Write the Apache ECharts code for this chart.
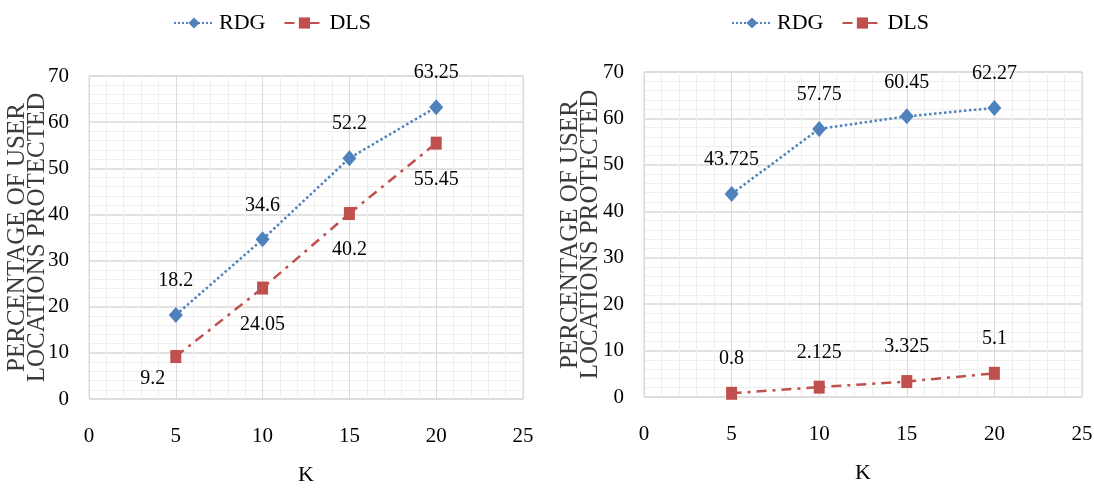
<!DOCTYPE html>
<html>
<head>
<meta charset="utf-8">
<script src="https://cdn.jsdelivr.net/npm/echarts@6/dist/echarts.min.js"></script>
<style>html,body{margin:0;padding:0;background:#fff}#c{width:1094px;height:494px}</style>
</head>
<body>
<div id="c"></div>
<script>
var kValues = [5, 10, 15, 20];
var leftRDG = [18.2, 34.6, 52.2, 63.25];
var leftDLS = [9.2, 24.05, 40.2, 55.45];
var rightRDG = [43.725, 57.75, 60.45, 62.27];
var rightDLS = [0.8, 2.125, 3.325, 5.1];
var seriesNames = ['RDG', 'DLS'];
var yTitle = 'PERCENTAGE OF USER\nLOCATIONS PROTECTED';
var xTitle = 'K';

var FONT = '"Liberation Serif", "Times New Roman", serif';
var BLUE = '#4F81BD', RED = '#C0504D';

function pairs(xs, ys) { return xs.map(function (x, i) { return [x, ys[i]]; }); }

function xAxis(gi) {
  return {
    gridIndex: gi, type: 'value', min: 0, max: 25, interval: 5,
    name: xTitle, nameLocation: 'middle', nameGap: 65, nameMoveOverlap: false,
    nameTextStyle: { fontFamily: FONT, fontSize: 22, color: '#000' },
    axisLine: { show: false }, axisTick: { show: false },
    axisLabel: { fontFamily: FONT, fontSize: 21, color: '#000', margin: 27 },
    splitLine: { lineStyle: { color: '#d9d9d9', width: 1 } },
    minorTick: { show: false, splitNumber: 5 },
    minorSplitLine: { show: true, lineStyle: { color: '#efefef', width: 1 } }
  };
}
function yAxis(gi, gap) {
  return {
    gridIndex: gi, type: 'value', min: 0, max: 70, interval: 10,
    name: yTitle, nameLocation: 'middle', nameGap: gap, nameRotate: 90, nameMoveOverlap: false,
    nameTextStyle: { fontFamily: FONT, fontSize: 25, color: '#3a3a3a', lineHeight: 20, align: 'center', verticalAlign: 'middle' },
    axisLine: { show: false }, axisTick: { show: false },
    axisLabel: { fontFamily: FONT, fontSize: 21, color: '#000', margin: 20 },
    splitLine: { lineStyle: { color: '#d9d9d9', width: 1.5 } },
    minorTick: { show: false, splitNumber: 5 },
    minorSplitLine: { show: true, lineStyle: { color: '#efefef', width: 1 } }
  };
}
var labelBase = { show: true, fontFamily: FONT, fontSize: 20, color: '#000' };

function rdg(gi, data) {
  return {
    name: seriesNames[0], type: 'line', xAxisIndex: gi, yAxisIndex: gi,
    data: pairs(kValues, data), symbol: 'diamond', symbolSize: [14, 16],
    itemStyle: { color: BLUE },
    lineStyle: { color: BLUE, width: 2.5, type: 'dotted' },
    label: Object.assign({}, labelBase, { position: 'top', distance: 16 }),
    z: 3
  };
}
function dls(gi, data, below) {
  var d = pairs(kValues, data);
  if (below) {
    d = d.map(function (p, i) {
      if (i === 0) return { value: p, label: { position: 'bottom', offset: [-23, -14] } };
      return p;
    });
  }
  return {
    name: seriesNames[1], type: 'line', xAxisIndex: gi, yAxisIndex: gi,
    data: d, symbol: 'rect', symbolSize: [11, 13],
    itemStyle: { color: RED },
    lineStyle: { color: RED, width: 2.5, type: [10, 6, 3, 6] },
    label: Object.assign({}, labelBase, below ? { position: 'bottom', distance: 20 } : { position: 'top', distance: 18 }),
    z: 2
  };
}

var legendCommon = {
  orient: 'horizontal', itemWidth: 40, itemHeight: 14, itemGap: 18,
  textStyle: { fontFamily: FONT, fontSize: 22, color: '#000' },
  data: seriesNames
};

var option = {
  backgroundColor: '#fff',
  animation: false,
  legend: [
    Object.assign({ left: 168, top: 7 }, legendCommon),
    Object.assign({ left: 726, top: 7 }, legendCommon)
  ],
  grid: [
    { left: 89, right: 571, top: 76, bottom: 95, show: true, borderColor: '#d9d9d9', borderWidth: 1, outerBoundsMode: 'none', containLabel: false },
    { left: 644, right: 12, top: 72, bottom: 97, show: true, borderColor: '#d9d9d9', borderWidth: 1, outerBoundsMode: 'none', containLabel: false }
  ],
  xAxis: [xAxis(0), xAxis(1)],
  yAxis: [yAxis(0, 62), yAxis(1, 64)],
  series: [
    rdg(0, leftRDG), dls(0, leftDLS, true),
    rdg(1, rightRDG), dls(1, rightDLS, false)
  ]
};
var chart = echarts.init(document.getElementById('c'), null, { renderer: 'canvas' });
chart.setOption(option);
</script>
</body>
</html>
